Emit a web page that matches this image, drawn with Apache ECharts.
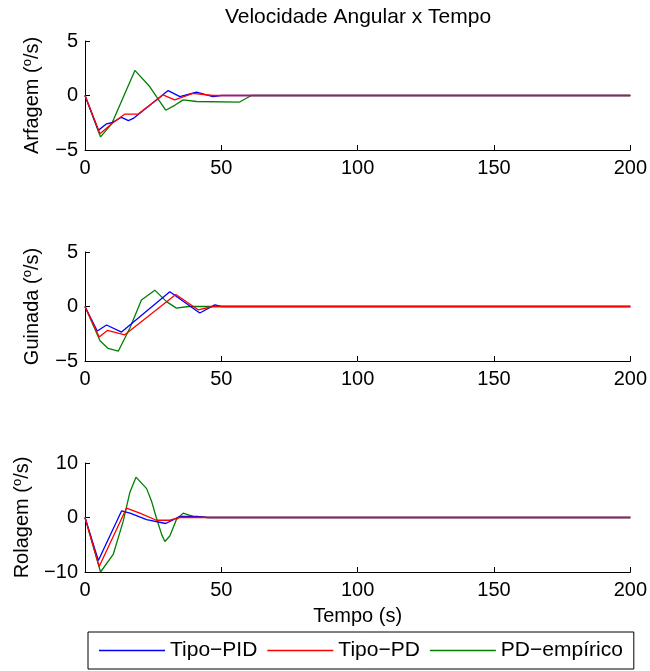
<!DOCTYPE html>
<html>
<head>
<meta charset="utf-8">
<script src="https://cdn.jsdelivr.net/npm/echarts@6/dist/echarts.min.js"></script>
<style>html,body{margin:0;padding:0;background:#fff}#c{width:650px;height:671px}</style>
</head>
<body>
<div id="c"></div>
<script>
// ---- data (time in s, angular velocity in deg/s) ----
const seriesNames = ['Tipo\u2212PID', 'Tipo\u2212PD', 'PD\u2212empírico'];
const yLabels = ['Arfagem', 'Guinada', 'Rolagem'];
const xTicks = [0, 50, 100, 150, 200];

// Arfagem
const arfPID_t = [0, 4.9, 7.9, 9.8, 13.4, 15.9, 17.7, 30.5, 34.8, 40.9, 46.9, 50, 200];
const arfPID_v = [0, -3.2, -2.6, -2.5, -2.0, -2.3, -2.1, 0.45, -0.1, 0.3, -0.1, 0, 0];
const arfPD_t = [0, 5.5, 9.8, 14.6, 19.5, 28.6, 32.9, 39.6, 46.9, 200];
const arfPD_v = [0, -3.5, -2.6, -1.7, -1.7, 0.05, -0.4, 0.2, 0, 0];
const arfEmp_t = [0, 5.7, 9.8, 18.3, 23.8, 26.2, 29.6, 32.9, 36, 40.9, 56.7, 61, 200];
const arfEmp_v = [0, -3.8, -2.6, 2.3, 0.8, -0.1, -1.35, -0.9, -0.4, -0.55, -0.6, 0, 0];

// Guinada
const guiPID_t = [0, 4.5, 7.9, 13.4, 31.1, 42.1, 47.6, 50, 200];
const guiPID_v = [0, -2.25, -1.7, -2.35, 1.35, -0.6, 0.15, 0, 0];
const guiPD_t = [0, 5.2, 8.2, 14.6, 33.3, 41.5, 46.9, 200];
const guiPD_v = [0, -2.8, -2.2, -2.6, 1.1, -0.3, 0, 0];
const guiEmp_t = [0, 5.5, 8.5, 12.2, 16.5, 20.7, 25.6, 29.9, 33.5, 38, 200];
const guiEmp_v = [0, -3.15, -3.85, -4.1, -1.95, 0.6, 1.5, 0.45, -0.15, 0, 0];

// Rolagem
const rolPID_t = [0, 4.9, 13.4, 16.5, 22.6, 29.6, 34.8, 41, 45, 200];
const rolPID_v = [0, -7.9, 1.2, 0.8, -0.4, -1.1, 0.2, 0.2, 0, 0];
const rolPD_t = [0, 5.2, 15.2, 20.1, 26.2, 31.1, 34.8, 200];
const rolPD_v = [0, -9, 1.7, 0.8, -0.5, -0.5, 0, 0];
const rolEmp_t = [0, 5.7, 10.4, 14, 16.5, 18.7, 22.6, 24.4, 26.2, 28.1, 29.3, 31.1, 33.5, 36, 39.6, 45, 200];
const rolEmp_v = [0, -10, -6.7, -0.7, 4.7, 7.4, 5.3, 3.0, -0.1, -3.1, -4.4, -3.4, -0.4, 0.8, 0.2, 0, 0];

const yRanges = [[-5, 5, 5], [-5, 5, 5], [-10, 10, 10]];

const panels = [
  [[arfPID_t, arfPID_v], [arfPD_t, arfPD_v], [arfEmp_t, arfEmp_v]],
  [[guiPID_t, guiPID_v], [guiPD_t, guiPD_v], [guiEmp_t, guiEmp_v]],
  [[rolPID_t, rolPID_v], [rolPD_t, rolPD_v], [rolEmp_t, rolEmp_v]]
];

// ---- chart ----
const FONT = '"Liberation Sans", Arial, Helvetica, sans-serif';
const colors = ['#0000ff', '#ff0000', '#008000'];
const gridTops = [41, 252, 463];
const grids = gridTops.map(t => ({left: 85, top: t, width: 546, height: 109, containLabel: false}));

const xAxes = [0, 1, 2].map(i => ({
  type: 'value', gridIndex: i, min: 0, max: 200, interval: 50,
  axisLine: {onZero: false, lineStyle: {color: '#000', width: 1}},
  axisTick: {inside: true, length: 5, lineStyle: {color: '#000'}},
  axisLabel: {color: '#000', fontSize: 20, fontFamily: FONT, margin: 8},
  splitLine: {show: false},
  name: i === 2 ? 'Tempo (s)' : '', nameLocation: 'middle', nameGap: 34,
  nameTextStyle: {color: '#000', fontSize: 20, fontFamily: FONT}
}));

const yAxes = [0, 1, 2].map(i => ({
  type: 'value', gridIndex: i, min: yRanges[i][0], max: yRanges[i][1], interval: yRanges[i][2],
  axisLine: {onZero: false, lineStyle: {color: '#000', width: 1}},
  axisTick: {inside: true, length: 5, lineStyle: {color: '#000'}},
  axisLabel: {color: '#000', fontSize: 20, fontFamily: FONT, margin: 7,
    formatter: v => (v < 0 ? '\u2212' + Math.abs(v) : String(v))},
  splitLine: {show: false},
  name: yLabels[i] + ' ({s|o}/s)', nameLocation: 'middle', nameGap: 42, nameRotate: 90,
  nameTextStyle: {color: '#000', fontSize: 20, fontFamily: FONT, lineHeight: 22,
    rich: {s: {fontSize: 13, fontFamily: FONT, color: '#000', verticalAlign: 'top', lineHeight: 22}}}
}));

const series = [];
panels.forEach((panel, pi) => {
  panel.forEach((pair, si) => {
    series.push({
      name: seriesNames[si], type: 'line', xAxisIndex: pi, yAxisIndex: pi,
      data: pair[0].map((t, k) => [t, pair[1][k]]),
      symbol: 'none', showSymbol: false, smooth: false, animation: false,
      lineStyle: {color: colors[si], width: 1.3}, itemStyle: {color: colors[si]},
      z: si === 2 ? 2 : (si === 1 ? 4 : 3)
    });
  });
});

const chart = echarts.init(document.getElementById('c'), null, {renderer: 'canvas'});
chart.setOption({
  animation: false,
  backgroundColor: '#fff',
  title: {text: 'Velocidade Angular x Tempo', left: 358, textAlign: 'center', top: 7, padding: 0,
    textStyle: {color: '#000', fontSize: 21, fontWeight: 'normal', fontFamily: FONT}},
  legend: {
    data: seriesNames, left: 88, top: 632, orient: 'horizontal',
    icon: 'rect', itemWidth: 66, itemHeight: 1.3, itemGap: 10, padding: [8, 11],
    borderColor: '#000', borderWidth: 1, backgroundColor: '#fff',
    textStyle: {color: '#000', fontSize: 21, fontFamily: FONT}
  },
  grid: grids, xAxis: xAxes, yAxis: yAxes, series: series
});
</script>
</body>
</html>
